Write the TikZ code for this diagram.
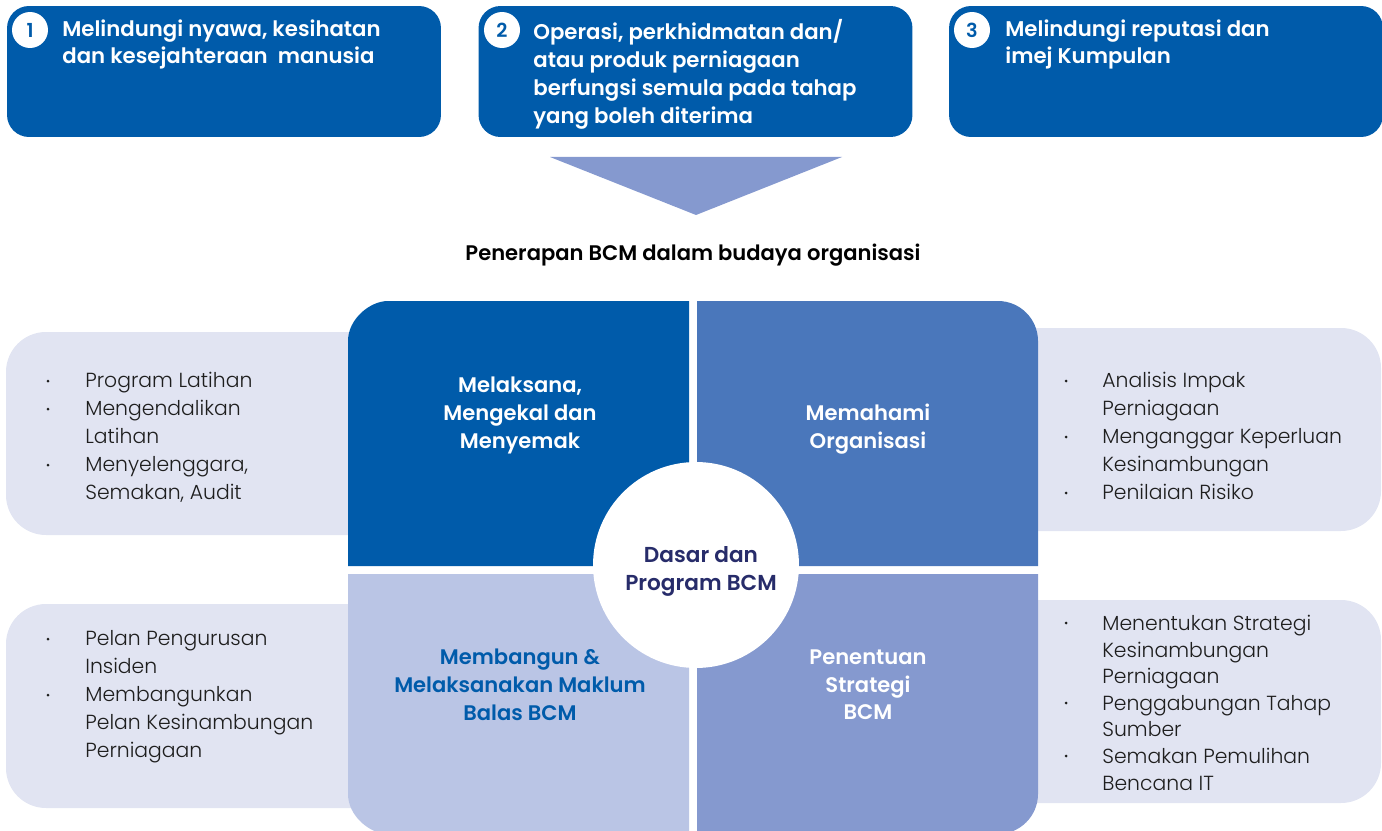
\documentclass[tikz,border=0pt]{standalone}
\usepackage{fontspec}
\setmainfont{Poppins}[BoldFont={Poppins SemiBold}]
\newfontfamily\nipis{Poppins Light}
\usepackage{xcolor}
\usepackage{tikz}
\usetikzlibrary{positioning}
\definecolor{birutua}{HTML}{005BAA}
\definecolor{birusedang}{HTML}{4A77BB}
\definecolor{birulembut}{HTML}{8599CF}
\definecolor{birupucat}{HTML}{BAC5E5}
\definecolor{latar}{HTML}{E1E4F2}
\definecolor{dakwat}{HTML}{272C6A}
\definecolor{teks}{HTML}{1E1E1E}
\tikzset{
  kotak/.style={rectangle, rounded corners=0.44cm, fill=birutua,
    minimum width=8.68cm, minimum height=2.62cm, inner sep=0},
  nombor/.style={circle, fill=white, text=birutua, inner sep=0,
    font=\fontsize{11}{13}\selectfont\bfseries, minimum size=0.72cm},
  tajukkotak/.style={anchor=north west, inner sep=0, align=left, text=white,
    font=\fontsize{12.1}{15.9}\selectfont\bfseries},
  tajuk/.style={anchor=base, inner sep=0, text=black,
    font=\fontsize{12}{14}\selectfont\bfseries},
  sukuan/.style={anchor=north, inner sep=0, align=center, text=white,
    font=\fontsize{12}{15.9}\selectfont\bfseries},
  bulat/.style={circle, fill=white, minimum size=4.12cm, inner sep=0},
  teksbulat/.style={anchor=north, inner sep=0, align=center, text=dakwat,
    font=\fontsize{12.3}{15.9}\selectfont\bfseries},
  butir/.style={anchor=north west, inner sep=0, align=left, text=teks,
    font=\nipis\fontsize{11.6}{15.9}\selectfont},
  butirrapat/.style={butir, font=\nipis\fontsize{11.6}{15.1}\selectfont},
  titik/.style={circle, fill=teks, minimum size=0.06cm, inner sep=0},
  panel/.style={fill=latar, rounded corners=0.8cm}
}

\begin{document}
\begin{tikzpicture}[x=0.02cm, y=-0.02cm]
  \useasboundingbox (0,0) rectangle (1382,831);
  \clip (0,0) rectangle (1382,831);

  % Objektif
  \node[kotak] (k1) at (224,71.5) {};
  \node[kotak] (k2) at (695.5,71.5) {};
  \node[kotak] (k3) at (1166,71.5) {};
  \node[nombor] (n1) at (30,30) {1};
  \node[nombor] (n2) at (502,30) {2};
  \node[nombor] (n3) at (972,30) {3};
  \node[tajukkotak] (t1) at (62,19) {Melindungi nyawa, kesihatan\\dan kesejahteraan\ \ manusia};
  \node[tajukkotak] (t2) at (533,19) {Operasi, perkhidmatan dan/\\atau produk perniagaan\\berfungsi semula pada tahap\\yang boleh diterima};
  \node[tajukkotak] (t3) at (1005,19) {Melindungi reputasi dan\\imej Kumpulan};

  % Anak panah
  \fill[birulembut] (550,157) -- (842,157) -- (696,215) -- cycle;
  \node[tajuk] (tajuk) at (693,260) {Penerapan BCM dalam budaya organisasi};

  % Panel sisi
  \fill[panel] (6,332) rectangle (420,535);
  \fill[panel] (6,604) rectangle (420,808);
  \fill[panel] (980,328) rectangle (1381,531);
  \fill[panel] (980,600) rectangle (1381,803);

  % Sukuan
  \fill[birutua] (348,566) -- (348,341) .. controls (348,319) and (370,301) .. (388,301) -- (689,301) -- (689,566) -- cycle;
  \fill[birusedang] (697,566) -- (697,301) -- (998,301) .. controls (1020,301) and (1038,319) .. (1038,341) -- (1038,566) -- cycle;
  \fill[birupucat] (348,574) -- (689,574) -- (689,834) -- (388,834) .. controls (370,834) and (348,816) .. (348,794) -- cycle;
  \fill[birulembut] (697,574) -- (1038,574) -- (1038,794) .. controls (1038,816) and (1020,834) .. (998,834) -- (697,834) -- cycle;

  \node[sukuan] (s1) at (520,377) {Melaksana,\\Mengekal dan\\Menyemak};
  \node[sukuan] (s2) at (868,404) {Memahami\\Organisasi};
  \node[sukuan, text=birutua] (s3) at (520,649) {Membangun \&\\Melaksanakan Maklum\\Balas BCM};
  \node[sukuan] (s4) at (868,649) {Penentuan\\Strategi\\BCM};

  % Pusat
  \node[bulat] (pusat) at (696,565) {};
  \node[teksbulat] (dasar) at (701,546) {Dasar dan\\Program BCM};

  % Senarai kiri
  \node[butir] (a1) at (85,372) {Program Latihan};
  \node[butir] (a2) at (85,400) {Mengendalikan\\Latihan};
  \node[butir] (a3) at (85,456) {Menyelenggara,\\Semakan, Audit};
  \foreach \y in {381,409,465} \node[titik] (ta\y) at (48,\y) {};

  \node[butir] (b1) at (85,630) {Pelan Pengurusan\\Insiden};
  \node[butir] (b2) at (85,686) {Membangunkan\\Pelan Kesinambungan\\Perniagaan};
  \node[titik] (tb1) at (48,639) {};
  \node[titik] (tb2) at (48,695) {};

  % Senarai kanan
  \node[butir] (c1) at (1102,372) {Analisis Impak\\Perniagaan};
  \node[butir] (c2) at (1102,428) {Menganggar Keperluan\\Kesinambungan};
  \node[butir] (c3) at (1102,484) {Penilaian Risiko};
  \foreach \y in {381,437,493} \node[titik] (tc\y) at (1066,\y) {};

  \node[butirrapat] (d1) at (1102,615) {Menentukan Strategi\\Kesinambungan\\Perniagaan};
  \node[butirrapat] (d2) at (1102,695) {Penggabungan Tahap\\Sumber};
  \node[butirrapat] (d3) at (1102,748) {Semakan Pemulihan\\Bencana IT};
  \foreach \y in {623,703,756} \node[titik] (td\y) at (1066,\y) {};
\end{tikzpicture}
\end{document}
